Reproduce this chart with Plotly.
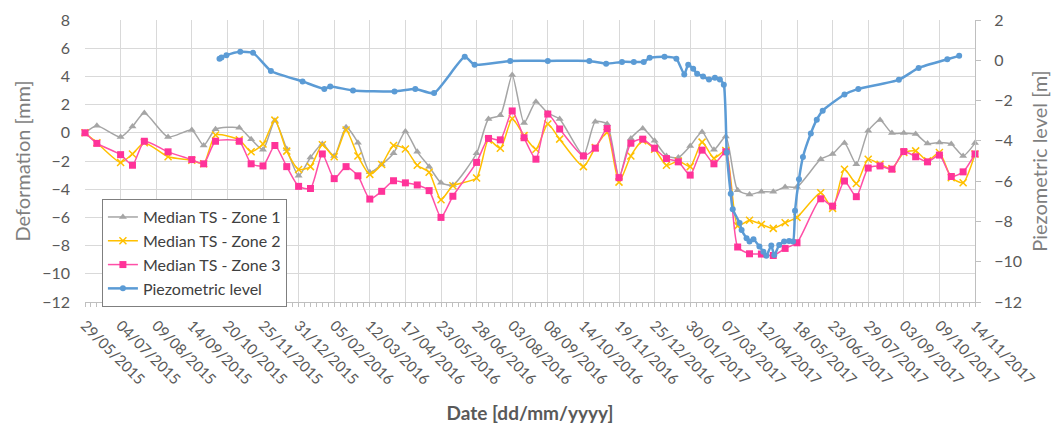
import plotly.graph_objects as go

zone_dates = [
    "2015-05-29", "2015-06-10", "2015-07-04", "2015-07-16", "2015-07-28", "2015-08-21",
    "2015-09-14", "2015-09-26", "2015-10-08", "2015-11-01", "2015-11-13", "2015-11-25",
    "2015-12-07", "2015-12-19", "2015-12-31", "2016-01-12", "2016-01-24", "2016-02-05",
    "2016-02-17", "2016-02-29", "2016-03-12", "2016-03-24", "2016-04-05", "2016-04-17",
    "2016-04-29", "2016-05-11", "2016-05-23", "2016-06-04", "2016-06-28", "2016-07-10",
    "2016-07-22", "2016-08-03", "2016-08-15", "2016-08-27", "2016-09-08", "2016-09-20",
    "2016-10-14", "2016-10-26", "2016-11-07", "2016-11-19", "2016-12-01", "2016-12-13",
    "2016-12-25", "2017-01-06", "2017-01-18", "2017-01-30", "2017-02-11", "2017-02-23",
    "2017-03-07", "2017-03-19", "2017-03-31", "2017-04-12", "2017-04-24", "2017-05-06",
    "2017-05-18", "2017-06-11", "2017-06-23", "2017-07-05", "2017-07-17", "2017-07-29",
    "2017-08-10", "2017-08-22", "2017-09-03", "2017-09-15", "2017-09-27", "2017-10-09",
    "2017-10-21", "2017-11-02", "2017-11-14",
]

zone1 = [
    0, 0.5, -0.3, 0.45, 1.4, -0.3,
    0.2, -0.9, 0.25, 0.35, -0.45, -1.2,
    0.85, -1.15, -3.05, -1.75, -0.8, -1.65,
    0.4, -0.7, -2.8, -2.25, -1.45, 0.1,
    -1.35, -2.4, -3.55, -3.7, -1.45, 0.97,
    1.25, 4.1, 0.7, 2.2, 1.4, 0.97,
    -1.6, 0.79, 0.62, -3.15, -0.4, 0.3,
    -0.57, -1.64, -1.75, -0.93, 0.05, -1.2,
    -0.27, -4.08, -4.37, -4.18, -4.18, -3.84,
    -3.84, -1.87, -1.5, -0.73, -2.23, 0.14,
    0.9, -0.02, -0.02, -0.09, -0.76, -0.69,
    -0.8, -1.64, -0.73,
]

zone2 = [
    0, -0.7, -2.1, -1.5, -0.7, -1.7,
    -1.95, -2.2, -0.15, -0.5, -1.35, -0.8,
    0.9, -1.3, -2.6, -2.4, -0.85, -1.7,
    0.2, -1.65, -2.95, -2.25, -0.9, -1.15,
    -2.3, -2.8, -4.75, -3.75, -3.2, -0.5,
    -1.1, 1.0, -0.2, -1.16, 0.62, -0.45,
    -2.4, -1.05, 0.02, -3.5, -1.64, -0.57,
    -1.16, -2.3, -2.0, -2.4, -0.66, -1.8,
    -1.25, -6.6, -6.2, -6.5, -6.78, -6.38,
    -6.0, -4.25, -5.36, -2.58, -3.6, -1.87,
    -2.23, -2.54, -1.4, -1.28, -1.99, -1.4,
    -3.18, -3.54, -1.5,
]

zone3 = [
    0, -0.75, -1.55, -2.3, -0.6, -1.35,
    -1.9, -2.2, -0.6, -0.6, -2.2, -2.35,
    -0.9, -2.4, -3.8, -3.95, -1.5, -3.25,
    -2.4, -3.05, -4.7, -4.15, -3.4, -3.55,
    -3.7, -4.1, -6.0, -4.5, -2.1, -0.4,
    -0.5, 1.55, -0.35, -1.87, 1.33, 0.27,
    -1.64, -1.09, 0.3, -3.18, -0.74, -0.45,
    -1.09, -1.83, -2.06, -3.0, -1.23, -2.2,
    -1.35, -8.1, -8.58, -8.6, -8.7, -8.2,
    -7.8, -4.68, -5.2, -3.42, -4.53, -2.5,
    -2.35, -2.58, -1.33, -1.7, -2.06, -1.58,
    -3.1, -2.77, -1.5,
]

piezo_dates = [
    "2015-10-12", "2015-10-14", "2015-10-19", "2015-11-02", "2015-11-15", "2015-12-03",
    "2016-01-04", "2016-01-26", "2016-02-01", "2016-02-24", "2016-04-06", "2016-04-27",
    "2016-05-16", "2016-06-16", "2016-06-26", "2016-08-01", "2016-09-08", "2016-10-20",
    "2016-11-06", "2016-11-22", "2016-12-04", "2016-12-14", "2016-12-20", "2017-01-04",
    "2017-01-16", "2017-01-24", "2017-01-28", "2017-02-02", "2017-02-06", "2017-02-12",
    "2017-02-18", "2017-02-24", "2017-03-01", "2017-03-05", "2017-03-08", "2017-03-12",
    "2017-03-14", "2017-03-21", "2017-03-23", "2017-03-28", "2017-03-31", "2017-04-04",
    "2017-04-10", "2017-04-14", "2017-04-17", "2017-04-22", "2017-04-25", "2017-04-30",
    "2017-05-05", "2017-05-10", "2017-05-14", "2017-05-16", "2017-05-20", "2017-05-24",
    "2017-06-01", "2017-06-07", "2017-06-13", "2017-07-05", "2017-07-19", "2017-08-29",
    "2017-09-18", "2017-10-17", "2017-10-29",
]

piezo = [
    0.08, 0.14, 0.25, 0.42, 0.37, -0.53,
    -1.05, -1.42, -1.3, -1.5, -1.55, -1.42,
    -1.63, 0.17, -0.22, -0.03, -0.03, -0.03,
    -0.17, -0.08, -0.08, -0.08, 0.12, 0.17,
    0.08, -0.7, -0.22, -0.42, -0.67, -0.8,
    -0.95, -0.87, -0.95, -1.22, -4.58, -6.63,
    -7.4, -8.08, -8.42, -8.83, -9.0, -8.88,
    -9.25, -9.5, -9.7, -9.2, -9.67, -9.17,
    -9.0, -8.97, -9.0, -7.47, -5.9, -4.8,
    -3.63, -2.95, -2.5, -1.7, -1.42, -0.97,
    -0.38, 0.05, 0.22,
]

tick_start = "2015-05-29"
tick_end = "2017-11-14"

FONT = "Lato"
DAY = 86400000

fig = go.Figure()

fig.add_trace(go.Scatter(
    x=zone_dates, y=zone1, name="Median TS - Zone 1", mode="lines+markers",
    line=dict(color="#A5A5A5", width=1.5, shape="spline", smoothing=0.6),
    marker=dict(symbol="triangle-up", size=7, color="#A5A5A5"),
    cliponaxis=False,
))
fig.add_trace(go.Scatter(
    x=zone_dates, y=zone2, name="Median TS - Zone 2", mode="lines+markers",
    line=dict(color="#FFC000", width=1.5, shape="spline", smoothing=0.6),
    marker=dict(symbol="x-thin", size=7, color="#FFC000", line=dict(color="#FFC000", width=1.5)),
    cliponaxis=False,
))
fig.add_trace(go.Scatter(
    x=zone_dates, y=zone3, name="Median TS - Zone 3", mode="lines+markers",
    line=dict(color="#FF4FA7", width=1.5, shape="spline", smoothing=0.6),
    marker=dict(symbol="square", size=7, color="#FF3399"),
    cliponaxis=False,
))
fig.add_trace(go.Scatter(
    x=piezo_dates, y=piezo, name="Piezometric level", mode="lines+markers",
    line=dict(color="#5B9BD5", width=2.5, shape="spline", smoothing=0.5),
    marker=dict(symbol="circle", size=6, color="#5B9BD5"),
    yaxis="y2", cliponaxis=False,
))

fig.update_layout(
    width=1051, height=426,
    margin=dict(l=85, r=76, t=20, b=124, autoexpand=False),
    paper_bgcolor="white", plot_bgcolor="white",
    font=dict(family=FONT, color="#595959", size=15),
    showlegend=True,
    legend=dict(
        x=0.019, y=0.365, xanchor="left", yanchor="top",
        bgcolor="white", bordercolor="#7f7f7f", borderwidth=1,
        font=dict(family=FONT, size=16, color="#404040"),
        itemwidth=30, tracegroupgap=0,
    ),
    xaxis=dict(
        type="date", automargin=False,
        range=[tick_start, tick_end],
        tick0=tick_start, dtick=36 * DAY,
        tickformat="%d/%m/%Y", tickangle=45,
        tickfont=dict(family=FONT, size=15, color="#595959"),
        ticklabelstandoff=4,
        showgrid=True, gridcolor="#D9D9D9", gridwidth=1,
        showline=True, linecolor="#BFBFBF", linewidth=1,
        ticks="outside", ticklen=4, tickcolor="#BFBFBF",
        minor=dict(dtick=6 * DAY, tick0=tick_start, ticks="outside", ticklen=4,
                   tickcolor="#BFBFBF", showgrid=False),
        zeroline=False,
        title=dict(text="<b>Date [dd/mm/yyyy]</b>",
                   font=dict(family=FONT, size=19, color="#595959"), standoff=19),
    ),
    yaxis=dict(
        range=[-12, 8], dtick=2, tick0=0, automargin=False,
        showgrid=True, gridcolor="#D9D9D9", gridwidth=1,
        zeroline=False, showline=False, ticks="",
        tickfont=dict(family=FONT, size=16, color="#595959"),
        ticklabelstandoff=14,
        title=dict(text="Deformation [mm]",
                   font=dict(family=FONT, size=20, color="#7f7f7f"), standoff=6),
    ),
    yaxis2=dict(
        range=[-12, 2], dtick=2, tick0=0, automargin=False,
        overlaying="y", side="right",
        showgrid=False, zeroline=False,
        showline=True, linecolor="#BFBFBF", linewidth=1,
        ticks="outside", ticklen=5, tickcolor="#BFBFBF",
        tickfont=dict(family=FONT, size=16, color="#595959"),
        ticklabelstandoff=10,
        title=dict(text="Piezometric level [m]",
                   font=dict(family=FONT, size=20, color="#7f7f7f"), standoff=12),
    ),
)

fig.write_html(
    "out.html",
    config={"displayModeBar": False},
    post_script="document.body.style.margin='0';document.body.style.overflow='hidden';",
)
